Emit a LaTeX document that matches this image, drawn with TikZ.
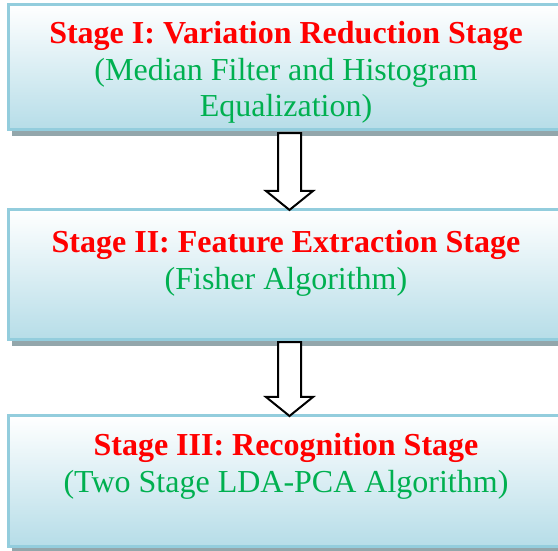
\documentclass[tikz,border=0pt]{standalone}
\usepackage{fontspec}
\setmainfont{Liberation Serif}
\usetikzlibrary{shadows,calc}
\definecolor{stagered}{HTML}{FF0000}
\definecolor{stagegreen}{HTML}{00B050}
\definecolor{stageline}{HTML}{93CDDD}
\definecolor{stagebg}{HTML}{B6DDE8}
\definecolor{shadowgray}{HTML}{93A6AB}

\begin{document}
\begin{tikzpicture}[
  x=1pt, y=1pt,
  stagebox/.style={draw=stageline, line width=3pt, top color=white, bottom color=stagebg,
                   minimum width=555pt, inner sep=0pt,
                   drop shadow={shadow xshift=3pt, shadow yshift=-6.5pt, fill=shadowgray, opacity=1}},
  stagetxt/.style={anchor=north, align=center, inner sep=0pt, text=stagegreen,
                   font=\fontsize{32}{36.5}\selectfont},
  hollow/.style={draw=black, line width=2pt, fill=white, line join=miter},
]
\useasboundingbox (0,0) rectangle (558,550);

% ============================================================ BOXES
\node[stagebox, minimum height=125pt] (s1) at (286,482.8) {};
\node[stagebox, minimum height=129.7pt] (s2) at (286,275.2) {};
\node[stagebox, minimum height=130pt] (s3) at (286,69) {};

% ============================================================ TEXTS
\node[stagetxt] (t1) at (286,528.6)
  {\textcolor{stagered}{\textbf{Stage I: Variation Reduction Stage}}\\
   (Median Filter and Histogram\\ Equalization)};
\node[stagetxt] (t2) at (286,319.6)
  {\textcolor{stagered}{\textbf{Stage II: Feature Extraction Stage}}\\
   (Fisher Algorithm)};
\node[stagetxt] (t3) at (286,116.6)
  {\textcolor{stagered}{\textbf{Stage III: Recognition Stage}}\\
   (Two Stage LDA-PCA Algorithm)};

% ============================================================ ARROWS
% hollow block arrows, tip resting on the next box
\draw[hollow] ([xshift=-8pt,yshift=-2pt]s1.south) -- ([xshift=-8pt,yshift=17.5pt]s2.north)
  -- ([xshift=-20pt,yshift=17.5pt]s2.north) -- ([xshift=3.5pt,yshift=-1.5pt]s2.north)
  -- ([xshift=27pt,yshift=17.5pt]s2.north) -- ([xshift=15pt,yshift=17.5pt]s2.north)
  -- ([xshift=15pt,yshift=-2pt]s1.south) -- cycle;
\draw[hollow] ([xshift=-8pt,yshift=-1pt]s2.south) -- ([xshift=-8pt,yshift=17.5pt]s3.north)
  -- ([xshift=-20pt,yshift=17.5pt]s3.north) -- ([xshift=3.5pt,yshift=-1.5pt]s3.north)
  -- ([xshift=27pt,yshift=17.5pt]s3.north) -- ([xshift=15pt,yshift=17.5pt]s3.north)
  -- ([xshift=15pt,yshift=-1pt]s2.south) -- cycle;

\end{tikzpicture}
\end{document}
